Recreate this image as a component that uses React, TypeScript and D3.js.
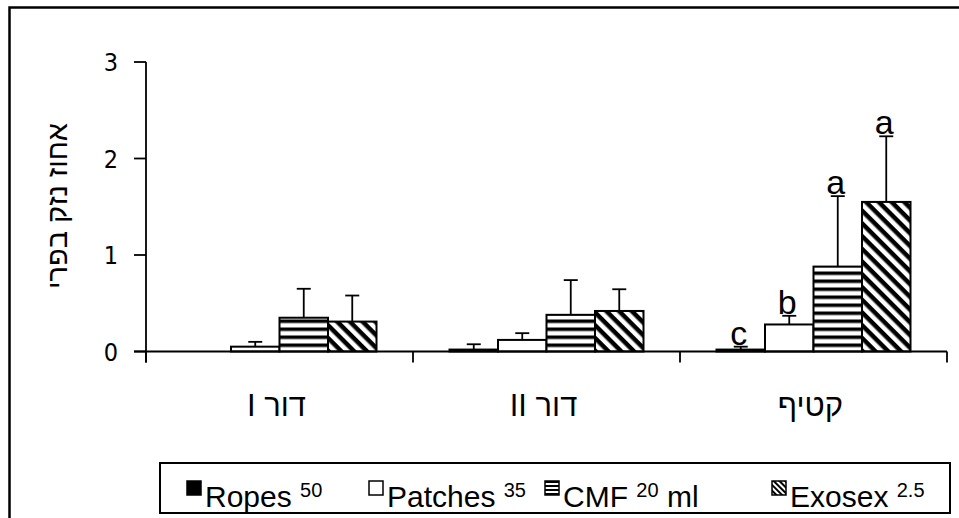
import React from 'react';
import * as d3 from 'd3';

// categories (x axis) and treatments (series)
const categories = ['דור I', 'דור II', 'קטיף'];
const seriesNames = ['Ropes', 'Patches', 'CMF', 'Exosex'];
const seriesDose = ['50', '35', '20', '2.5'];
const seriesUnit = ['', '', 'ml', ''];

// mean damage per category, and the upper error
const ropes = [0, 0.02, 0.02];
const ropesErr = [0, 0.055, 0.03];
const patches = [0.05, 0.12, 0.28];
const patchesErr = [0.05, 0.07, 0.09];
const cmf = [0.35, 0.38, 0.88];
const cmfErr = [0.3, 0.36, 0.73];
const exosex = [0.31, 0.42, 1.55];
const exosexErr = [0.27, 0.225, 0.68];

// significance letters (only on the last category)
const letters = [
  ['', '', '', ''],
  ['', '', '', ''],
  ['c', 'b', 'a', 'a'],
];

const yTicks = [0, 1, 2, 3];
const yTitle = 'אחוז נזק בפרי';

const values = [ropes, patches, cmf, exosex];
const errors = [ropesErr, patchesErr, cmfErr, exosexErr];
const fills = ['#000', '#fff', 'url(#hstripe)', 'url(#dstripe)'];
const legendFills = ['#000', '#fff', 'url(#hstripeS)', 'url(#dstripeS)'];

const W = 959;
const H = 518;
const sans = '"Liberation Sans", Arial, sans-serif';
const tickFont = '"DejaVu Sans Condensed", "DejaVu Sans", Tahoma, sans-serif';

export default function App() {
  const x = d3.scaleBand().domain(categories).range([146, 947]);
  const inner = d3
    .scaleBand()
    .domain(seriesNames)
    .range([36.5, x.bandwidth() - 36.5]);
  const y = d3.scaleLinear().domain([0, 3]).range([351.5, 62]);
  const y0 = y(0);

  // legend swatch positions
  const legendX = [187, 369, 545, 772];

  return (
    <svg
      width={W}
      height={H}
      style={{ position: 'absolute', left: 0, top: 0, background: '#fff' }}
    >
      <defs>
        <pattern id="hstripe" width="8" height="8" patternUnits="userSpaceOnUse" y={y0}>
          <rect width="8" height="8" fill="#fff" />
          <rect y="0" width="8" height="3.5" fill="#000" />
        </pattern>
        <pattern
          id="dstripe"
          width="9"
          height="9"
          patternUnits="userSpaceOnUse"
          patternTransform="rotate(45)"
        >
          <rect width="9" height="9" fill="#fff" />
          <rect y="0" width="9" height="4.5" fill="#000" />
        </pattern>
        <pattern id="hstripeS" width="4" height="4" patternUnits="userSpaceOnUse">
          <rect width="4" height="4" fill="#fff" />
          <rect y="1" width="4" height="2" fill="#000" />
        </pattern>
        <pattern
          id="dstripeS"
          width="4"
          height="4"
          patternUnits="userSpaceOnUse"
          patternTransform="rotate(45)"
        >
          <rect width="4" height="4" fill="#fff" />
          <rect width="4" height="2" fill="#000" />
        </pattern>
      </defs>

      {/* outer frame, runs off the right and bottom */}
      <rect x={9.5} y={7.5} width={960} height={530} fill="none" stroke="#000" strokeWidth={2.5} />

      {/* y title */}
      <text
        transform={`translate(67,206) rotate(-90)`}
        textAnchor="middle"
        fontFamily={sans}
        fontSize={29}
        direction="rtl"
      >
        {yTitle}
      </text>

      {/* y axis */}
      <line x1={146} x2={146} y1={y(3)} y2={y0 + 11} stroke="#000" strokeWidth={1.8} />
      {yTicks.map((t) => (
        <g key={t}>
          <line x1={134} x2={146} y1={y(t)} y2={y(t)} stroke="#000" strokeWidth={1.8} />
          <text x={118} y={y(t) + 9} textAnchor="end" fontFamily={tickFont} fontSize={25}>
            {t}
          </text>
        </g>
      ))}

      {/* bars */}
      {categories.map((c, ci) => (
        <g key={c} transform={`translate(${x(c)},0)`}>
          {seriesNames.map((s, si) => {
            const v = values[si][ci];
            const e = errors[si][ci];
            const bx = inner(s)!;
            const bw = inner.bandwidth();
            const cx = bx + bw / 2;
            const top = y(v + e);
            return (
              <g key={s}>
                {e > 0 && (
                  <g stroke="#000" strokeWidth={1.8}>
                    <line x1={cx} x2={cx} y1={y(v)} y2={top} />
                    <line x1={cx - 7} x2={cx + 7} y1={top} y2={top} />
                  </g>
                )}
                <rect
                  x={bx}
                  y={y(v)}
                  width={bw}
                  height={y0 - y(v)}
                  fill={fills[si]}
                  stroke="#000"
                  strokeWidth={2}
                />
                {letters[ci][si] && (
                  <text
                    x={cx - 2}
                    y={top - 2}
                    textAnchor="middle"
                    fontFamily={sans}
                    fontSize={34}
                  >
                    {letters[ci][si]}
                  </text>
                )}
              </g>
            );
          })}
        </g>
      ))}

      {/* x axis */}
      <line x1={134} x2={947} y1={y0} y2={y0} stroke="#000" strokeWidth={1.8} />
      {[...categories.map((c) => x(c)!), 947].map((bx, i) => (
        <line key={i} x1={bx} x2={bx} y1={y0} y2={y0 + 11} stroke="#000" strokeWidth={1.8} />
      ))}
      {categories.map((c) => (
        <text
          key={c}
          x={x(c)! + x.bandwidth() / 2 - 3}
          y={416}
          textAnchor="middle"
          fontFamily={sans}
          fontSize={31}
          direction="rtl"
        >
          {c}
        </text>
      ))}

      {/* legend */}
      <rect x={160} y={463} width={790} height={50} fill="#fff" stroke="#000" strokeWidth={2} />
      {seriesNames.map((s, i) => (
        <g key={s}>
          <rect
            x={legendX[i]}
            y={481}
            width={14}
            height={14}
            fill={legendFills[i]}
            stroke="#000"
            strokeWidth={1.5}
          />
          <text x={legendX[i] + 18} y={507} fontFamily={sans} fontSize={30}>
            {s + ' '}
            <tspan fontSize={20} dy={-10}>
              {seriesDose[i]}
            </tspan>
            {seriesUnit[i] && <tspan dy={10}>{' ' + seriesUnit[i]}</tspan>}
          </text>
        </g>
      ))}
    </svg>
  );
}
